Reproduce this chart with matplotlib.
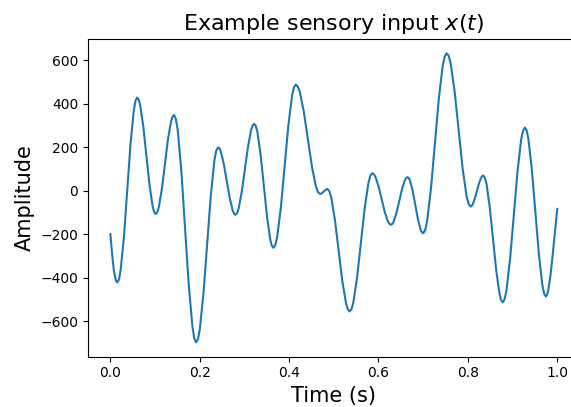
import numpy as np
import matplotlib
matplotlib.use("Agg")
import matplotlib.pyplot as plt

# values (seconds, amplitude)
time = [0.0, 0.0039, 0.0078, 0.0118, 0.0137, 0.0157,
        0.0194, 0.0231, 0.0305, 0.0379, 0.0452, 0.0526, 0.0563, 0.060,
        0.0635, 0.0669, 0.0738, 0.0808, 0.0877, 0.0946, 0.0980, 0.1015,
        0.1049, 0.1083, 0.1152, 0.1220, 0.1288, 0.1357, 0.1391, 0.1425,
        0.1466, 0.1508, 0.1590, 0.1673, 0.1755, 0.1838, 0.1879, 0.192,
        0.1961, 0.2002, 0.2083, 0.2165, 0.2247, 0.2328, 0.2369, 0.241,
        0.2443, 0.2475, 0.2540, 0.2605, 0.2670, 0.2735, 0.2768, 0.280,
        0.2835, 0.2870, 0.2940, 0.3010, 0.3080, 0.3150, 0.3185, 0.322,
        0.3256, 0.3292, 0.3363, 0.3435, 0.3507, 0.3578, 0.3614, 0.365,
        0.3692, 0.3733, 0.3817, 0.3900, 0.3983, 0.4067, 0.4108, 0.415,
        0.4195, 0.424, 0.433, 0.442, 0.451, 0.460, 0.4645, 0.469,
        0.4718, 0.4747, 0.4775, 0.4803, 0.4832, 0.486,
        0.4901, 0.4943, 0.5025, 0.5108, 0.5190, 0.5273, 0.5314, 0.5355,
        0.5397, 0.5439, 0.5523, 0.5608, 0.5692, 0.5776, 0.5818, 0.586,
        0.5895, 0.5930, 0.6000, 0.6070, 0.6140, 0.6210, 0.6245, 0.628,
        0.6311, 0.6342, 0.6403, 0.6465, 0.6527, 0.6588, 0.6619, 0.665,
        0.6679, 0.6708, 0.6767, 0.6825, 0.6883, 0.6942, 0.6971, 0.700,
        0.7044, 0.7088, 0.7175, 0.7263, 0.7351, 0.7438, 0.7482, 0.7526,
        0.7571, 0.7615, 0.7704, 0.7793, 0.7882, 0.7971, 0.8016, 0.806,
        0.8084, 0.8108, 0.8155, 0.8203, 0.8250, 0.8298, 0.8321, 0.8345,
        0.8381, 0.8418, 0.8490, 0.8563, 0.8635, 0.8708, 0.8744, 0.878,
        0.8821, 0.8863, 0.8945, 0.9028, 0.9111, 0.9193, 0.9235, 0.9276,
        0.9315, 0.9354, 0.9432, 0.9511, 0.9589, 0.9667, 0.9706, 0.9745,
        0.977, 0.9795, 0.9845, 0.9895, 0.9945, 1.0]

amplitude = [-199, -290, -365, -408, -417, -421,
             -407, -364, -209, 4, 217, 372, 415, 429,
             420, 393, 295, 161, 27, -71, -98, -107,
             -99, -76, 7, 121, 235, 318, 341, 349,
             331, 279, 87, -174, -435, -627, -679, -697,
             -682, -637, -473, -248, -24, 140, 185, 200,
             195, 179, 122, 45, -32, -89, -105, -110,
             -103, -82, -5, 99, 203, 280, 301, 308,
             298, 270, 165, 23, -120, -224, -252, -262,
             -249, -212, -74, 114, 301, 439, 476, 489,
             480, 455, 363, 238, 112, 20, -5, -14,
             -13, -9, -3, 2, 7, 8,
             -2, -30, -133, -274, -414, -517, -545, -555,
             -544, -512, -396, -237, -78, 38, 70, 81,
             77, 65, 22, -38, -97, -140, -152, -156,
             -152, -141, -101, -46, 8, 48, 59, 63,
             59, 46, -2, -66, -131, -178, -191, -195,
             -181, -140, 12, 219, 426, 578, 619, 633,
             621, 586, 457, 281, 104, -25, -60, -72,
             -70, -62, -36, -1, 35, 61, 68, 70,
             60, 31, -76, -222, -367, -474, -503, -513,
             -499, -459, -312, -111, 90, 237, 277, 291,
             278, 239, 97, -98, -292, -434, -473, -486,
             -479, -462, -395, -300, -195, -83]

fig = plt.figure(figsize=(5.71, 4.07), dpi=100)
ax = fig.add_axes([88 / 571, 50.3 / 407, 491.6 / 571, 318 / 407])
ax.plot(time, amplitude)
ax.set_xlim(-0.05, 1.05)
ax.set_ylim(-763, 700)
ax.set_yticks([-600, -400, -200, 0, 200, 400, 600])
ax.set_xticks([0.0, 0.2, 0.4, 0.6, 0.8, 1.0])
ax.set_xlabel("Time (s)", fontsize=15)
ax.set_ylabel("Amplitude", fontsize=15)
ax.set_title("Example sensory input $x(t)$", fontsize=16)
fig.savefig("out.png", dpi=100)
